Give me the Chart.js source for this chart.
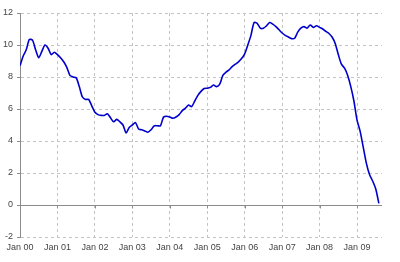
<!DOCTYPE html>
<html>
<head>
<meta charset="utf-8">
<script src="https://cdn.jsdelivr.net/npm/chart.js@4"></script>
<style>
  html, body { margin: 0; padding: 0; background: #fff; }
  #wrap { width: 400px; height: 262px; }
</style>
</head>
<body>
<div id="wrap"><canvas id="chart" width="400" height="262"></canvas></div>
<script>
// Monthly values, Jan 2000 .. Aug 2009
const values = [
  8.7, 9.3, 9.7, 10.35, 10.3, 9.7, 9.2, 9.6, 10.0, 9.8, 9.4, 9.55,
  9.4, 9.2, 8.95, 8.6, 8.1, 8.0, 7.95, 7.4, 6.75, 6.6, 6.6, 6.2,
  5.8, 5.65, 5.6, 5.6, 5.7, 5.45, 5.2, 5.35, 5.2, 5.0, 4.5, 4.85,
  5.0, 5.15, 4.75, 4.7, 4.63, 4.55, 4.7, 4.95, 4.95, 4.95, 5.5, 5.55,
  5.5, 5.42, 5.5, 5.65, 5.9, 6.05, 6.25, 6.15, 6.5, 6.85, 7.1, 7.28,
  7.3, 7.35, 7.5, 7.4, 7.55, 8.1, 8.3, 8.45, 8.65, 8.8, 8.95, 9.15,
  9.45, 10.0, 10.6, 11.4, 11.35, 11.05, 11.05, 11.2, 11.4, 11.3, 11.15, 10.95,
  10.75, 10.6, 10.5, 10.4, 10.42, 10.8, 11.05, 11.15, 11.05, 11.25, 11.1, 11.2,
  11.1, 11.0, 10.85, 10.72, 10.5, 10.1, 9.4, 8.8, 8.55, 8.1, 7.4, 6.5,
  5.3, 4.6, 3.6, 2.6, 1.9, 1.5, 1.0, 0.1
];
const tickLabels = ["Jan 00", "Jan 01", "Jan 02", "Jan 03", "Jan 04", "Jan 05", "Jan 06", "Jan 07", "Jan 08", "Jan 09"];
const monthsShown = 116;

const points = values.map((v, i) => ({ x: i, y: v }));

// solid zero line with small ticks at each January
const zeroLine = {
  id: 'zeroLine',
  beforeDatasetsDraw(chart) {
    const { ctx, chartArea, scales } = chart;
    const y0 = Math.round(scales.y.getPixelForValue(0)) + 0.5;
    ctx.save();
    ctx.strokeStyle = '#8c8c8c';
    ctx.lineWidth = 1;
    ctx.beginPath();
    ctx.moveTo(chartArea.left, y0);
    ctx.lineTo(chartArea.right, y0);
    tickLabels.forEach((_, i) => {
      const x = Math.round(scales.x.getPixelForValue(i * 12)) + 0.5;
      ctx.moveTo(x, y0);
      ctx.lineTo(x, y0 + 3);
    });
    ctx.stroke();
    ctx.restore();
  }
};

new Chart(document.getElementById('chart'), {
  type: 'line',
  data: {
    datasets: [{
      data: points,
      borderColor: '#0000cc',
      borderWidth: 1.6,
      pointRadius: 0,
      tension: 0.25,
      fill: false
    }]
  },
  options: {
    responsive: false,
    animation: false,
    layout: { padding: { top: 13, right: 18, left: 0, bottom: 0 } },
    plugins: { legend: { display: false }, tooltip: { enabled: false } },
    scales: {
      x: {
        type: 'linear',
        min: 0,
        max: monthsShown,
        afterBuildTicks(scale) {
          scale.ticks = tickLabels.map((_, i) => ({ value: i * 12 }));
        },
        afterFit(scale) { scale.height = 25; },
        ticks: {
          autoSkip: false,
          maxRotation: 0,
          padding: 5,
          color: '#444',
          font: { family: 'Liberation Sans', size: 9 },
          callback: (v, i) => tickLabels[i]
        },
        grid: { color: '#c4c4c4', drawTicks: false },
        border: { display: false, dash: [3, 3] }
      },
      y: {
        min: -2,
        max: 12,
        afterFit(scale) { scale.width = 20; },
        ticks: {
          stepSize: 2,
          padding: 4,
          color: '#444',
          font: { family: 'Liberation Sans', size: 9 }
        },
        grid: { color: '#c4c4c4', tickLength: 3, tickColor: '#8c8c8c' },
        border: { display: true, color: '#8c8c8c', dash: [3, 3] }
      }
    }
  },
  plugins: [zeroLine]
});
</script>
</body>
</html>
